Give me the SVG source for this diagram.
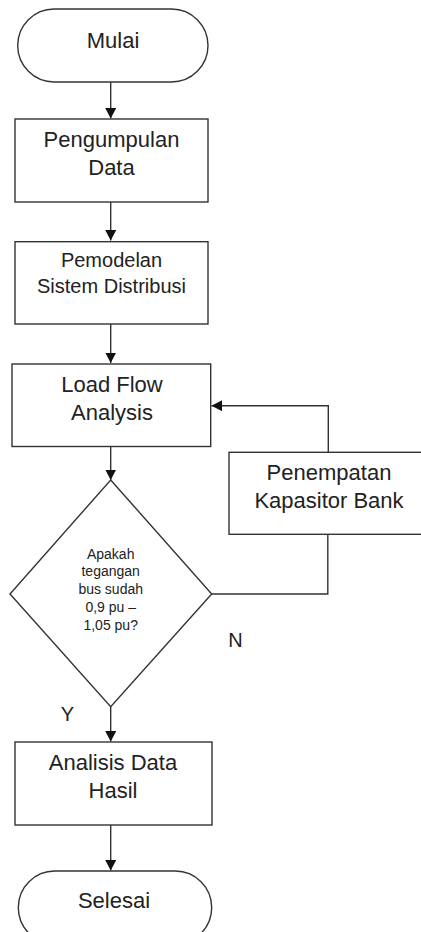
<svg xmlns="http://www.w3.org/2000/svg" width="421" height="932" viewBox="0 0 421 932">
<style>
.s{fill:#fff;stroke:#333;stroke-width:1.4}
.c{fill:none;stroke:#333;stroke-width:1.4}
.t{font-family:"Liberation Sans",Arial,sans-serif;font-size:22px;fill:#222;text-anchor:middle}
.m{font-size:20px}
.d{font-size:14px}
</style>
<defs>
<marker id="ah" markerUnits="userSpaceOnUse" markerWidth="11" markerHeight="11" refX="10.5" refY="5.5" orient="auto">
<path d="M0,0 L10.5,5.5 L0,11 z" fill="#111"/>
</marker>
</defs>
<rect width="421" height="932" fill="#fff"/>
<g id="connectors">
<path class="c" d="M110.7,82 V118.5" marker-end="url(#ah)"/>
<path class="c" d="M110.7,202 V240.5" marker-end="url(#ah)"/>
<path class="c" d="M110.7,324 V363" marker-end="url(#ah)"/>
<path class="c" d="M110.7,446.5 V480" marker-end="url(#ah)"/>
<path class="c" d="M110.7,706.7 V741.5" marker-end="url(#ah)"/>
<path class="c" d="M110.7,825 V870.5" marker-end="url(#ah)"/>
<path class="c" d="M211.7,594 H327.8 V534.3"/>
<path class="c" d="M328.3,452.3 V405.7 H211.5" marker-end="url(#ah)"/>
</g>
<g id="mulai">
<rect class="s" x="17.7" y="9" width="190.3" height="73" rx="36.5" ry="36.5"/>
<text class="t" x="113" y="48.3">Mulai</text>
</g>
<g id="pengumpulan">
<rect class="s" x="15" y="119" width="193" height="83"/>
<text class="t" x="111.5" y="147">Pengumpulan</text>
<text class="t" x="111.5" y="175">Data</text>
</g>
<g id="pemodelan">
<rect class="s" x="15" y="241.7" width="193" height="82.3"/>
<text class="t m" x="111.5" y="267">Pemodelan</text>
<text class="t m" x="111.5" y="293">Sistem Distribusi</text>
</g>
<g id="loadflow">
<rect class="s" x="12" y="364" width="198.7" height="82.5"/>
<text class="t" x="112" y="392">Load Flow</text>
<text class="t" x="112" y="420">Analysis</text>
</g>
<g id="penempatan">
<rect class="s" x="229" y="452.3" width="200" height="82"/>
<text class="t" x="329" y="480">Penempatan</text>
<text class="t" x="329" y="508">Kapasitor Bank</text>
</g>
<g id="keputusan">
<polygon class="s" points="110.7,480 211.7,594 110.7,706.7 10,594"/>
<text class="t d" x="110.7" y="559">Apakah</text>
<text class="t d" x="110.7" y="576">tegangan</text>
<text class="t d" x="110.7" y="594">bus sudah</text>
<text class="t d" x="110.7" y="612">0,9 pu –</text>
<text class="t d" x="110.7" y="630">1,05 pu?</text>
</g>
<g id="label-n">
<text class="t m" x="235.5" y="647">N</text>
</g>
<g id="label-y">
<text class="t m" x="67.5" y="720.5">Y</text>
</g>
<g id="analisis">
<rect class="s" x="15" y="742" width="197" height="83"/>
<text class="t" x="113" y="770">Analisis Data</text>
<text class="t" x="113" y="798">Hasil</text>
</g>
<g id="selesai">
<rect class="s" x="18.3" y="871" width="193.4" height="73" rx="36.5" ry="36.5"/>
<text class="t" x="114" y="907.7">Selesai</text>
</g>
</svg>
